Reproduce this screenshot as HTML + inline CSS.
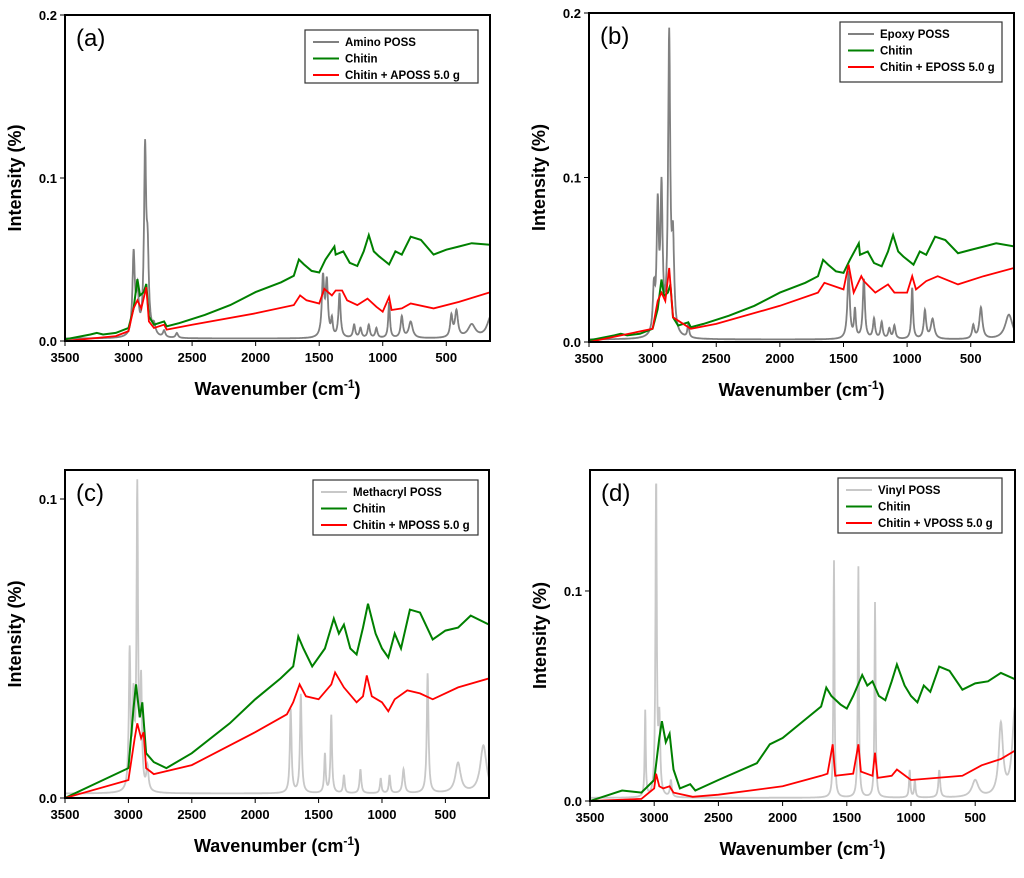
<!DOCTYPE html>
<html><head><meta charset="utf-8">
<style>
body{margin:0;background:#fff;}
svg text{font-family:"Liberation Sans",Arial,sans-serif;}
</style></head>
<body>
<svg id="fig" width="1024" height="873" xmlns="http://www.w3.org/2000/svg"></svg>
<script>
// Panel (a)
const aChitinX=[3500,3300,3250,3200,3100,3000,2960,2930,2910,2880,2860,2840,2800,2720,2700,2600,2400,2200,2100,2000,1800,1700,1660,1620,1560,1500,1450,1380,1370,1310,1260,1200,1150,1110,1070,1030,950,900,850,780,700,600,500,400,300,150];
const aChitinY=[0.001,0.004,0.005,0.004,0.005,0.008,0.02,0.038,0.028,0.03,0.035,0.015,0.01,0.012,0.009,0.011,0.016,0.022,0.026,0.03,0.036,0.04,0.05,0.047,0.043,0.042,0.05,0.058,0.053,0.055,0.048,0.046,0.055,0.065,0.055,0.052,0.047,0.055,0.053,0.064,0.062,0.053,0.056,0.058,0.06,0.059];
const aMixX=[3500,3100,3000,2960,2930,2900,2860,2840,2800,2720,2700,2500,2000,1700,1650,1600,1500,1460,1400,1370,1320,1280,1200,1120,1050,1000,950,930,850,780,600,400,150];
const aMixY=[0,0.003,0.006,0.02,0.025,0.02,0.033,0.012,0.008,0.01,0.007,0.01,0.017,0.022,0.028,0.025,0.023,0.032,0.028,0.031,0.031,0.025,0.022,0.026,0.021,0.018,0.027,0.019,0.02,0.023,0.02,0.024,0.03];
const aPossC=[2960,2930,2870,2850,2800,2720,2620,1470,1440,1400,1340,1225,1175,1110,1050,950,850,780,460,420,300,150];
const aPossH=[0.05,0.026,0.11,0.045,0.006,0.004,0.003,0.036,0.033,0.01,0.027,0.008,0.006,0.008,0.006,0.022,0.013,0.01,0.013,0.016,0.008,0.013];
const aPossW=[11,11,10,11,14,11,11,11,11,8,10,10,10,10,10,8,11,18,11,14,35,35];
// Panel (b)
const bChitinX=aChitinX.slice();
const bChitinY=[0.001,0.004,0.005,0.004,0.005,0.008,0.02,0.038,0.028,0.03,0.035,0.015,0.01,0.012,0.009,0.011,0.016,0.022,0.026,0.03,0.036,0.04,0.05,0.047,0.043,0.042,0.05,0.06,0.053,0.055,0.048,0.046,0.055,0.065,0.055,0.052,0.047,0.055,0.053,0.064,0.062,0.054,0.056,0.058,0.06,0.058];
const bMixX=[3500,3000,2960,2930,2900,2870,2840,2700,2500,2000,1700,1650,1500,1460,1420,1360,1340,1250,1150,1100,1000,960,930,850,760,600,400,160];
const bMixY=[0,0.008,0.025,0.03,0.025,0.045,0.015,0.008,0.011,0.022,0.03,0.036,0.032,0.047,0.03,0.04,0.037,0.03,0.035,0.03,0.03,0.04,0.032,0.037,0.04,0.035,0.04,0.045];
const bPossC=[2990,2960,2930,2870,2840,2720,1460,1410,1340,1260,1200,1140,1100,960,860,800,480,420,200];
const bPossH=[0.026,0.075,0.085,0.18,0.052,0.008,0.041,0.017,0.036,0.012,0.01,0.006,0.008,0.031,0.017,0.012,0.008,0.019,0.015];
const bPossW=[10,10,10,10,11,8,11,8,10,10,10,10,10,8,11,16,11,14,35];
// Panel (c)
const cChitinX=[3500,3300,3000,2960,2940,2910,2890,2860,2800,2700,2500,2200,2000,1800,1700,1660,1620,1550,1450,1380,1340,1300,1250,1200,1150,1110,1050,1000,950,900,850,780,700,600,500,400,300,156];
const cChitinY=[0,0.004,0.01,0.03,0.038,0.027,0.032,0.015,0.012,0.01,0.015,0.025,0.033,0.04,0.044,0.054,0.05,0.044,0.05,0.06,0.055,0.058,0.05,0.048,0.057,0.065,0.055,0.05,0.047,0.055,0.05,0.063,0.062,0.053,0.056,0.057,0.061,0.058];
const cMixX=[3500,3000,2950,2930,2900,2880,2860,2800,2500,2000,1750,1700,1650,1600,1500,1400,1370,1300,1200,1150,1120,1080,1000,950,900,800,700,600,400,156];
const cMixY=[0,0.006,0.02,0.025,0.02,0.022,0.01,0.008,0.011,0.022,0.028,0.032,0.038,0.034,0.033,0.038,0.042,0.037,0.032,0.034,0.041,0.034,0.032,0.029,0.033,0.036,0.035,0.033,0.037,0.04];
const cPossC=[2990,2960,2930,2900,2850,1720,1640,1450,1400,1300,1170,1010,940,830,640,400,200];
const cPossH=[0.046,0.028,0.1,0.035,0.008,0.028,0.033,0.013,0.026,0.006,0.008,0.005,0.006,0.008,0.04,0.01,0.016];
const cPossW=[8,8,7,8,10,8,8,7,7,7,8,7,7,10,8,25,30];
// Panel (d)
const dChitinX=[3500,3250,3100,3000,2960,2940,2910,2880,2850,2800,2720,2680,2500,2200,2100,2000,1800,1700,1660,1620,1550,1500,1450,1380,1340,1300,1250,1200,1150,1110,1050,1000,950,900,850,780,700,600,500,400,300,190];
const dChitinY=[0,0.005,0.004,0.01,0.03,0.038,0.028,0.032,0.015,0.006,0.008,0.005,0.01,0.018,0.027,0.03,0.04,0.045,0.054,0.05,0.046,0.044,0.05,0.06,0.055,0.057,0.05,0.048,0.057,0.065,0.055,0.05,0.047,0.055,0.052,0.064,0.062,0.053,0.056,0.057,0.061,0.058];
const dMixX=[3500,3100,3060,3000,2985,2960,2930,2880,2850,2700,2500,2000,1700,1650,1610,1590,1450,1410,1390,1300,1280,1260,1150,1110,1000,800,600,450,300,190];
const dMixY=[0,0.001,0.003,0.006,0.013,0.007,0.006,0.007,0.004,0.002,0.003,0.007,0.012,0.013,0.027,0.012,0.013,0.027,0.014,0.012,0.023,0.011,0.012,0.015,0.01,0.011,0.012,0.017,0.02,0.024];
const dPossC=[3070,2985,2960,2870,1600,1410,1280,1010,970,780,500,300,190];
const dPossH=[0.041,0.15,0.035,0.008,0.113,0.11,0.093,0.013,0.008,0.013,0.008,0.034,0.042];
const dPossW=[5,6,8,8,5,5,5,6,6,8,30,20,25];
const xTicks=[3500,3000,2500,2000,1500,1000,500];
const yTicksAB=[0,0.1,0.2];
const yTicksCD=[0,0.1];

const NS="http://www.w3.org/2000/svg";
const svg=document.getElementById('fig');
function mk(tag,attrs,parent){const e=document.createElementNS(NS,tag);for(const k in attrs)e.setAttribute(k,attrs[k]);(parent||svg).appendChild(e);return e;}

const panels=[
 {id:'a',L:65,R:490,T:15,B:341,xmin:156,ymax:0.2,yt:yTicksAB,poss:[aPossC,aPossH,aPossW],pcol:'#808080',ch:[aChitinX,aChitinY],mx:[aMixX,aMixY],names:['Amino POSS','Chitin','Chitin + APOSS 5.0 g'],leg:[305,30,173,53],xt:395},
 {id:'b',L:589,R:1014,T:13,B:342,xmin:160,ymax:0.2,yt:yTicksAB,poss:[bPossC,bPossH,bPossW],pcol:'#808080',ch:[bChitinX,bChitinY],mx:[bMixX,bMixY],names:['Epoxy POSS','Chitin','Chitin + EPOSS 5.0 g'],leg:[840,22,162,60],xt:396},
 {id:'c',L:65,R:489,T:470,B:798,xmin:156,ymax:0.1097,yt:yTicksCD,poss:[cPossC,cPossH,cPossW],pcol:'#c8c8c8',ch:[cChitinX,cChitinY],mx:[cMixX,cMixY],names:['Methacryl POSS','Chitin','Chitin + MPOSS 5.0 g'],leg:[313,480,165,55],xt:852},
 {id:'d',L:590,R:1015,T:470,B:801,xmin:190,ymax:0.1576,yt:yTicksCD,poss:[dPossC,dPossH,dPossW],pcol:'#c8c8c8',ch:[dChitinX,dChitinY],mx:[dMixX,dMixY],names:['Vinyl POSS','Chitin','Chitin + VPOSS 5.0 g'],leg:[838,478,164,55],xt:855}
];

panels.forEach(p=>{
 const g=mk('g',{});
 
 
 const xs=w=>p.L+(3500-w)/(3500-p.xmin)*(p.R-p.L);
 const ys=v=>p.B-v/p.ymax*(p.B-p.T);
 const cp=mk('clipPath',{id:'clip'+p.id},g);mk('rect',{x:p.L,y:p.T,width:p.R-p.L,height:p.B-p.T},cp);
 const lines=mk('g',{'clip-path':'url(#clip'+p.id+')'},g);
 let d='';
 for(let w=3500;w>=p.xmin;w-=2){let v=0.0015;for(let i=0;i<p.poss[0].length;i++){const gw=p.poss[2][i];v+=p.poss[1][i]*gw*gw/((w-p.poss[0][i])**2+gw*gw);}d+=(d?'L':'M')+xs(w).toFixed(1)+','+ys(v).toFixed(1);}
 const l1=mk('path',{d:d,fill:'none',stroke:p.pcol,'stroke-width':1.8},lines);
 
 
 const poly=(X,Y)=>X.map((w,i)=>(i?'L':'M')+xs(w).toFixed(1)+','+ys(Y[i]).toFixed(1)).join('');
 const l2=mk('path',{d:poly(p.ch[0],p.ch[1]),fill:'none',stroke:'#008000','stroke-width':2},lines);
 
 
 const l3=mk('path',{d:poly(p.mx[0],p.mx[1]),fill:'none',stroke:'#ff0000','stroke-width':1.8},lines);
 
 
 const fr=mk('rect',{x:p.L,y:p.T,width:p.R-p.L,height:p.B-p.T,fill:'none',stroke:'#000','stroke-width':2},g);
 
 
 xTicks.forEach(t=>{const x=xs(t);mk('line',{x1:x,x2:x,y1:p.B,y2:p.B+5,stroke:'#000','stroke-width':1},g);
  const tx=mk('text',{x:x,y:p.B+21,'text-anchor':'middle','font-size':13,'font-weight':'bold'},g);tx.textContent=t;
  
  });
 p.yt.forEach(t=>{const y=ys(t);mk('line',{x1:p.L-5,x2:p.L,y1:y,y2:y,stroke:'#000','stroke-width':1},g);
  const tx=mk('text',{x:p.L-8,y:y+5,'text-anchor':'end','font-size':13,'font-weight':'bold'},g);tx.textContent=t.toFixed(1);
  
  });
 const xt=mk('text',{x:(p.L+p.R)/2,y:p.xt,'text-anchor':'middle','font-size':18,'font-weight':'bold'},g);
 xt.innerHTML='Wavenumber (cm<tspan dy="-7" font-size="12">-1</tspan><tspan dy="7">)</tspan>';
 
 
 const yc=(p.T+p.B)/2, yx=p.L-44;
 const yt=mk('text',{x:yx,y:yc,'text-anchor':'middle','font-size':18,'font-weight':'bold',transform:'rotate(-90 '+yx+' '+yc+')'},g);
 yt.textContent='Intensity (%)';
 
 
 const pl=mk('text',{x:p.L+11,y:p.T+31,'font-size':24},g);pl.textContent='('+p.id+')';
 
 
 const lg=mk('g',{},g);
 
 
 const [lx,ly,lw,lh]=p.leg;
 mk('rect',{x:lx,y:ly,width:lw,height:lh,fill:'#fff',stroke:'#333','stroke-width':1.2},lg);
 const cols=[p.pcol,'#008000','#ff0000'];
 p.names.forEach((n,i)=>{const y=ly+12+i*16.5;
  mk('line',{x1:lx+8,x2:lx+34,y1:y,y2:y,stroke:cols[i],'stroke-width':2},lg);
  const t=mk('text',{x:lx+40,y:y+4,'font-size':11.5,'font-weight':'bold'},lg);t.textContent=n;
  
  });
});
</script>
</body></html>
